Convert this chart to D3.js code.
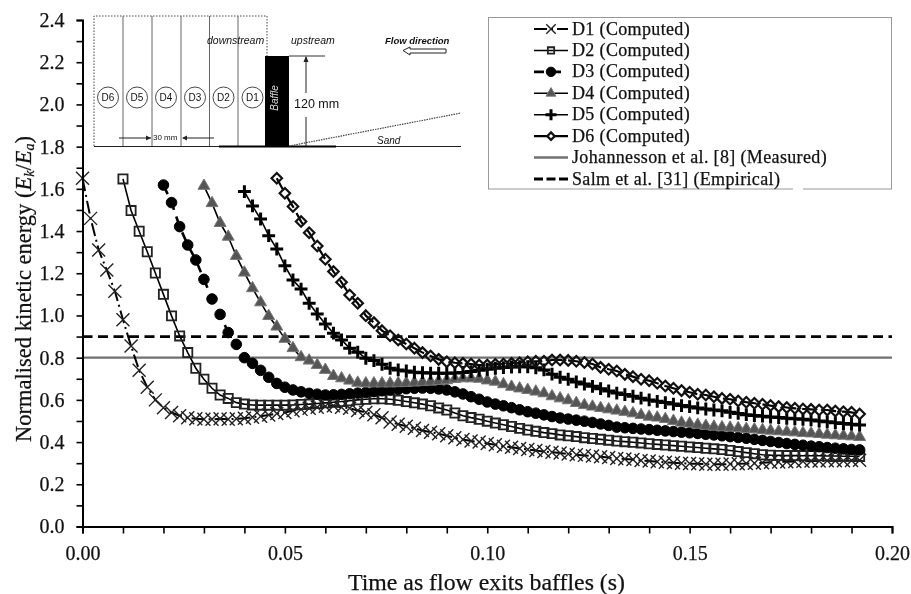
<!DOCTYPE html>
<html><head><meta charset="utf-8">
<script src="https://cdn.jsdelivr.net/npm/d3@7"></script>
<style>
html,body{margin:0;padding:0;background:#fff}
svg{display:block;filter:blur(0.5px)}
text{font-family:"Liberation Serif",serif;fill:#111}
.inset text{font-family:"Liberation Sans",Arial,sans-serif}
.heavy{stroke:#111;stroke-width:.25px}
</style></head><body><svg id="c" width="911" height="594"></svg>
<script>
const timeGrid=[0,.002,.004,.006,.008,.01,.012,.014,.016,.018,.02,.022,.024,.026,.028,.03,.032,.034,.036,.038,.04,.042,.044,.046,.048,.05,.052,.054,.056,.058,.06,.062,.064,.066,.068,.07,.072,.074,.076,.078,.08,.082,.084,.086,.088,.09,.092,.094,.096,.098,.1,.102,.104,.106,.108,.11,.112,.114,.116,.118,.12,.122,.124,.126,.128,.13,.132,.134,.136,.138,.14,.142,.144,.146,.148,.15,.152,.154,.156,.158,.16,.162,.164,.166,.168,.17,.172,.174,.176,.178,.18,.182,.184,.186,.188,.19,.192];
const d1Values=[1.65,1.46,1.31,1.215,1.115,.98,.855,.74,.66,.6,.563,.54,.525,.515,.51,.508,.508,.51,.508,.51,.513,.518,.522,.528,.535,.54,.548,.555,.56,.565,.57,.572,.565,.56,.55,.54,.53,.515,.495,.485,.475,.465,.455,.447,.44,.43,.42,.412,.405,.4,.393,.387,.38,.375,.37,.365,.36,.355,.352,.348,.344,.34,.337,.334,.33,.327,.322,.32,.317,.313,.31,.307,.304,.302,.3,.298,.297,.295,.295,.295,.296,.297,.298,.3,.302,.304,.306,.307,.308,.309,.31,.31,.311,.312,.312,.313,.314];
const d2Values=[1.647,1.497,1.399,1.302,1.201,1.1,.998,.903,.824,.75,.698,.655,.623,.607,.587,.58,.576,.575,.575,.575,.575,.576,.578,.58,.583,.586,.589,.592,.596,.6,.603,.605,.605,.603,.598,.592,.586,.58,.572,.562,.552,.538,.525,.516,.508,.499,.49,.482,.474,.465,.457,.451,.445,.44,.434,.43,.426,.421,.417,.413,.409,.405,.402,.399,.396,.392,.389,.386,.383,.38,.377,.374,.371,.368,.365,.36,.355,.35,.345,.34,.338,.337,.336,.336,.335,.335,.335,.334,.334,.333,.333,.332];
const d3Values=[1.618,1.535,1.421,1.334,1.263,1.171,1.078,1.005,.919,.863,.8,.773,.74,.707,.678,.66,.647,.638,.631,.627,.623,.624,.626,.629,.632,.635,.639,.643,.647,.65,.653,.655,.656,.655,.652,.647,.638,.628,.615,.603,.59,.58,.572,.563,.553,.544,.537,.529,.521,.514,.509,.504,.499,.493,.486,.479,.471,.468,.465,.462,.459,.456,.453,.45,.447,.444,.441,.437,.434,.43,.426,.422,.418,.413,.408,.403,.398,.393,.389,.385,.381,.378,.374,.371,.368,.365,.363];
const d4Values=[1.614,1.532,1.438,1.373,1.282,1.203,1.129,1.062,.997,.947,.889,.845,.802,.786,.765,.742,.713,.702,.691,.681,.678,.678,.678,.678,.679,.68,.682,.684,.686,.689,.693,.699,.702,.702,.7,.692,.686,.674,.662,.654,.647,.639,.631,.617,.607,.598,.585,.575,.568,.561,.555,.549,.543,.536,.528,.52,.516,.509,.5,.492,.488,.482,.477,.473,.47,.468,.466,.462,.46,.457,.454,.451,.449,.446,.443,.441,.438,.435,.432,.43,.427,.424];
const d5Values=[1.587,1.519,1.457,1.378,1.315,1.235,1.168,1.125,1.058,1.007,.96,.916,.884,.845,.826,.797,.786,.769,.75,.742,.737,.731,.729,.727,.726,.726,.727,.73,.734,.74,.745,.75,.753,.756,.757,.757,.752,.742,.722,.707,.698,.685,.675,.664,.653,.642,.632,.625,.617,.608,.6,.593,.587,.58,.573,.568,.562,.557,.552,.548,.541,.536,.53,.526,.523,.519,.516,.513,.51,.508,.505,.5,.496,.492,.488,.485,.481];
const d6Values=[1.65,1.579,1.516,1.445,1.392,1.329,1.266,1.208,1.157,1.097,1.058,.999,.966,.928,.904,.884,.865,.845,.824,.808,.792,.781,.776,.773,.77,.765,.765,.769,.77,.773,.776,.781,.783,.783,.789,.789,.787,.783,.777,.77,.754,.745,.737,.721,.71,.698,.691,.679,.666,.655,.644,.636,.627,.623,.615,.607,.603,.595,.589,.584,.579,.573,.568,.564,.56,.557,.555,.552,.552,.547,.544,.541,.533];
const seriesNames=["D1 (Computed)","D2 (Computed)","D3 (Computed)","D4 (Computed)","D5 (Computed)","D6 (Computed)"];
const refNames=["Johannesson et al. [8] (Measured)","Salm et al. [31] (Empirical)"];
const refValues=[0.8,0.9];
const xTicks=[0,.01,.02,.03,.04,.05,.06,.07,.08,.09,.1,.11,.12,.13,.14,.15,.16,.17,.18,.19,.2];
const yTicks=[0,.2,.4,.6,.8,1,1.2,1.4,1.6,1.8,2,2.2,2.4];
const yMinor=[.1,.3,.5,.7,.9,1.1,1.3,1.5,1.7,1.9,2.1,2.3];
const detectorLabels=["D6","D5","D4","D3","D2","D1"];

const svg=d3.select("#c");
const x=d3.scaleLinear().domain([0,.2]).range([82.5,892]);
const y=d3.scaleLinear().domain([0,2.4]).range([526.5,20]);
const allValues=[d1Values,d2Values,d3Values,d4Values,d5Values,d6Values];
const styles=[
 {dash:"13,4,2,4",w:2,sym:d3.symbolTimes,size:112,ls:60,fill:"none",stroke:"#222",sw:1.4},
 {dash:null,w:1.6,sym:d3.symbolSquare,size:84,ls:40,fill:"none",stroke:"#222",sw:1.8},
 {dash:"10,7",w:2.6,sym:d3.symbolCircle,size:88,ls:70,fill:"#000",stroke:"#000",sw:1},
 {dash:null,w:1.6,sym:d3.symbolTriangle,size:62,ls:42,fill:"#555",stroke:"#777",sw:1},
 {dash:null,w:1.6,sym:d3.symbolPlus,size:56,ls:42,fill:"none",stroke:"#000",sw:3},
 {dash:"14,6",w:2.2,sym:d3.symbolDiamond2,size:70,ls:36,fill:"none",stroke:"#111",sw:2.2}
];
const line=d3.line().x(d=>x(d.t)).y(d=>y(d.v));

// inset schematic
const ins=svg.append("g").attr("class","inset");
ins.append("path").attr("d","M94,146V16H267V56").attr("fill","none").attr("stroke","#444").attr("stroke-width",1).attr("stroke-dasharray","1.5,1.5");
[123,152,181,209.5,238].forEach(v=>ins.append("line").attr("x1",v).attr("x2",v).attr("y1",16).attr("y2",146).attr("stroke","#666").attr("stroke-width",1));
ins.append("line").attr("x1",94).attr("x2",461).attr("y1",146.5).attr("y2",146.5).attr("stroke","#222").attr("stroke-width",1.2);
ins.append("line").attr("x1",219).attr("x2",336).attr("y1",146.5).attr("y2",146.5).attr("stroke","#000").attr("stroke-width",1.8);
ins.append("rect").attr("x",265).attr("y",56).attr("width",24).attr("height",91).attr("fill","#000");
ins.append("line").attr("x1",289).attr("x2",325).attr("y1",56).attr("y2",56).attr("stroke","#333").attr("stroke-width",1);
ins.append("line").attr("x1",289).attr("x2",461).attr("y1",146).attr("y2",113).attr("stroke","#444").attr("stroke-width",1.2).attr("stroke-dasharray","1.5,1");
detectorLabels.forEach((t,i)=>{const cx=[108,137,166,195,223.5,252.5][i];
 ins.append("circle").attr("cx",cx).attr("cy",97.5).attr("r",10.5).attr("fill","#fff").attr("stroke","#333").attr("stroke-width",.9);
 ins.append("text").attr("x",cx).attr("y",101).attr("text-anchor","middle").attr("font-size",10).text(t);});
const itxt=(t,xx,yy,fs,o={})=>ins.append("text").attr("x",xx).attr("y",yy).attr("font-size",fs).attr("font-style",o.i?"italic":null).attr("font-weight",o.b?"bold":null).text(t);
itxt("downstream",207,44,10.5,{i:1});
itxt("upstream",291,44,10.5,{i:1});
itxt("Flow direction",385,44,9.5,{i:1,b:1});
itxt("120 mm",294,108,12.5);
itxt("30 mm",153,140,8);
itxt("Sand",377,144,10,{i:1});
ins.append("text").attr("transform","translate(278,98) rotate(-90)").attr("text-anchor","middle").attr("font-size",10).attr("font-style","italic").style("fill","#ddd").text("Baffle");
ins.append("path").attr("d","M403,50.5L410,47V49H446V53H410V55Z").attr("fill","#fff").attr("stroke","#222").attr("stroke-width",1);
const arrow=(p,head)=>{ins.append("path").attr("d",p).attr("fill","none").attr("stroke","#222").attr("stroke-width",1);ins.append("path").attr("d",head).attr("fill","#222");};
arrow("M306,57V93M306,117V146","M306,56L303.5,62H308.5Z");
arrow("M119,138H151","M151,138L146,135.5V140.5Z");
arrow("M214,138H183","M182,138L187,135.5V140.5Z");

// reference lines
svg.append("line").attr("x1",x(0)).attr("x2",x(.2)).attr("y1",y(refValues[0])).attr("y2",y(refValues[0])).attr("stroke","#707070").attr("stroke-width",2.4);
svg.append("line").attr("x1",x(0)).attr("x2",x(.2)).attr("y1",y(refValues[1])).attr("y2",y(refValues[1])).attr("stroke","#000").attr("stroke-width",2.8).attr("stroke-dasharray","10,5.5");

// series
allValues.forEach((vals,k)=>{
 const off=timeGrid.length-vals.length;
 const pts=vals.map((v,i)=>({t:timeGrid[off+i],v}));
 const s=styles[k],g=svg.append("g");
 g.append("path").datum(pts).attr("d",line).attr("fill","none").attr("stroke","#000").attr("stroke-width",s.w).attr("stroke-dasharray",s.dash);
 g.selectAll("path.m").data(pts).join("path").attr("class","m")
  .attr("transform",d=>`translate(${x(d.t)},${y(d.v)})`)
  .attr("d",d3.symbol().type(s.sym).size(s.size))
  .attr("fill",s.fill).attr("stroke",s.stroke).attr("stroke-width",s.sw);
});

// axes
const ax=svg.append("g").attr("transform",`translate(0,${y(0)})`)
 .call(d3.axisBottom(x).tickValues(xTicks).tickSize(7).tickPadding(12).tickFormat(d=>Math.round(d*1000)%50===0?d3.format(".2f")(d):""));
const ay=svg.append("g").attr("transform",`translate(${x(0)},0)`)
 .call(d3.axisLeft(y).tickValues(yTicks.concat(yMinor)).tickSize(6).tickPadding(12).tickFormat(d=>yTicks.includes(d)?d3.format(".1f")(d):""));
[ax,ay].forEach(a=>{a.selectAll("path.domain").attr("stroke","#000").attr("stroke-width",2);a.selectAll("line").attr("stroke","#000").attr("stroke-width",1.6);a.selectAll("text").attr("font-size",20).attr("font-family",'"Liberation Serif",serif').attr("class","heavy").style("fill","#111");});

// titles
svg.append("text").attr("class","heavy").attr("x",486.5).attr("y",590).attr("text-anchor","middle").attr("font-size",23.8).text("Time as flow exits baffles (s)");
const yt=svg.append("text").attr("class","heavy").attr("transform","translate(31,289) rotate(-90)").attr("text-anchor","middle").attr("font-size",22.5);
yt.append("tspan").text("Normalised kinetic energy (");
yt.append("tspan").attr("font-style","italic").text("E");
yt.append("tspan").attr("font-size",14).attr("dy",3).attr("font-style","italic").text("k");
yt.append("tspan").attr("dy",-3).text("/");
yt.append("tspan").attr("font-style","italic").text("E");
yt.append("tspan").attr("font-size",14).attr("dy",3).attr("font-style","italic").text("a");
yt.append("tspan").attr("dy",-3).text(")");

// legend
const lg=svg.append("g");
lg.append("rect").attr("x",488.5).attr("y",17.5).attr("width",403).attr("height",171.5).attr("fill","#fff").attr("stroke","#999").attr("stroke-width",1);
lg.append("rect").attr("x",793).attr("y",187).attr("width",10).attr("height",4).attr("fill","#fff");
const ly=d3.scaleLinear().domain([0,7]).range([29,179]);
seriesNames.concat(refNames).forEach((t,i)=>{
 const yy=ly(i);
 if(i<6){const s=styles[i];
  lg.append("line").attr("x1",534).attr("x2",568).attr("y1",yy).attr("y2",yy).attr("stroke","#000").attr("stroke-width",s.w).attr("stroke-dasharray",s.dash);
  lg.append("path").attr("transform",`translate(551,${yy})`).attr("d",d3.symbol().type(s.sym).size(s.ls)).attr("fill",s.fill).attr("stroke",s.stroke).attr("stroke-width",s.sw);
 } else {
  lg.append("line").attr("x1",534).attr("x2",568).attr("y1",yy).attr("y2",yy).attr("stroke",i==6?"#707070":"#000").attr("stroke-width",i==6?2.4:2.8).attr("stroke-dasharray",i==6?null:"9,3.5");
 }
 lg.append("text").attr("class","heavy").attr("x",572).attr("y",yy+5.5).attr("font-size",18).attr("letter-spacing",.35).text(t);
});
</script></body></html>
